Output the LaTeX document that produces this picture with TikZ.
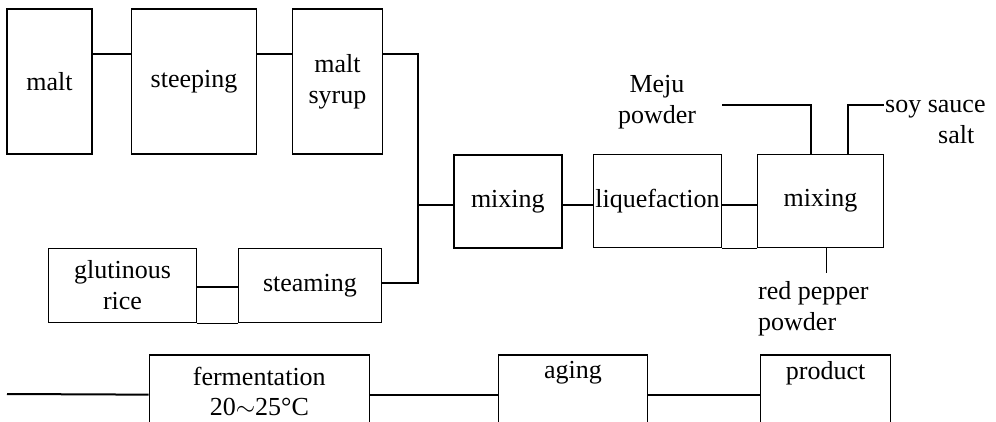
\documentclass[tikz,border=0pt]{standalone}
\usepackage{fontspec}
\setmainfont{Liberation Serif}
\begin{document}
\begin{tikzpicture}[x=1pt,y=-1pt,
  every node/.style={font=\fontsize{26}{31}\selectfont},
  box/.style={draw, line width=1.3pt, inner sep=0pt, align=center},
  txt/.style={inner sep=0pt},
  conn/.style={line width=2pt}]
\useasboundingbox (0,0) rectangle (996,422);
% top row
\node[box, minimum width=85pt, minimum height=145pt] (malt) at (49.5,81.5) {malt};
\node[box, minimum width=125pt, minimum height=145pt] (steep) at (194,81.5) {steeping};
\node[box, minimum width=90pt, minimum height=145pt] (syrup) at (337.5,81.5) {malt\\syrup};
% rice row
\node[box, minimum width=148.4pt, minimum height=74.4pt] (rice) at (122.5,285.5) {glutinous\\rice};
\node[box, minimum width=143.4pt, minimum height=74.4pt] (steam) at (310,285.5) {steaming};
% middle row
\node[box, line width=2pt, minimum width=107.7pt, minimum height=92.7pt] (mix1) at (507.85,201.35) {mixing};
\node[box, minimum width=128.4pt, minimum height=93.4pt] (liq) at (657.5,201) {liquefaction};
\node[box, minimum width=125.6pt, minimum height=93.4pt] (mix2) at (820.5,201) {mixing};
% additives
\node[txt, align=center] (meju) at (657,102) {Meju\\powder};
\node[txt, align=left, anchor=west] (soy) at (885,122) {soy sauce\\\hspace*{53pt}salt};
\node[txt, align=left, anchor=north west] (pepper) at (758,281) {red pepper\\powder};
% bottom row (cut off)
\node[box, minimum width=220pt, minimum height=79.4pt, anchor=north] (ferm) at (259.3,354.3) {};
\node[txt, align=center, font=\fontsize{26}{30}\selectfont] (fermt) at (259.3,391) {fermentation\\20$\sim$25°C};
\node[box, minimum width=149.4pt, minimum height=79.4pt, anchor=north] (aging) at (573,354.3) {};
\node[txt] (agingt) at (573,373) {aging};
\node[box, minimum width=130pt, minimum height=79.4pt, anchor=north] (prod) at (825.7,354.3) {};
\node[txt] (prodt) at (825.7,373) {product};
% coordinates
\coordinate (jn) at (418.3,205);
\coordinate (mejuend) at (722.3,105);
\coordinate (soyend) at (884,105);
\coordinate (pepend) at (826.7,272.7);
\coordinate (start) at (7,394);
% connectors
\draw[conn] ([yshift=-46pt]malt.north east) -- ([yshift=-46pt]steep.north west);
\draw[conn] ([yshift=-46pt]steep.north east) -- ([yshift=-46pt]syrup.north west);
\draw[conn] ([yshift=-46pt]syrup.north east) -| (jn) |- ([yshift=3pt]steam.east);
\draw[conn] (jn) -- (jn -| mix1.west);
\draw[conn] ([yshift=-1.2pt]rice.east) -- ([yshift=-1.2pt]steam.west);
\draw[line width=1.3pt] (rice.south east) -- (steam.south west);
\draw[conn] (jn -| mix1.east) -- (jn -| liq.west);
\draw[conn] (jn -| liq.east) -- (jn -| mix2.west);
\draw[line width=1.3pt] (liq.south east) -- (mix2.south west);
\draw[conn] (mejuend) -| ([xshift=-9.5pt]mix2.north);
\draw[conn] ([xshift=27.2pt]mix2.north) |- (soyend);
\draw[line width=1.3pt] ([xshift=6.2pt]mix2.south) -- (pepend);
\draw[conn] (start) -- (ferm.west);
\draw[conn] (ferm.east) -- (aging.west);
\draw[conn] (aging.east) -- (prod.west);
\end{tikzpicture}
\end{document}
